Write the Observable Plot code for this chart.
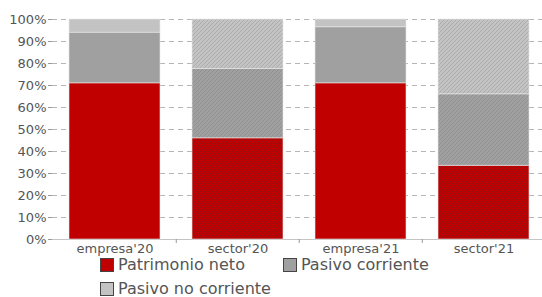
<!DOCTYPE html>
<html>
<head>
<meta charset="utf-8">
<script src="https://cdn.jsdelivr.net/npm/d3@7"></script>
<script src="https://cdn.jsdelivr.net/npm/@observablehq/plot@0.6"></script>
<style>
  body { margin: 0; background: #fff; font-family: "DejaVu Sans", sans-serif; }
  #wrap { position: relative; width: 542px; height: 297px; overflow: hidden; }
  #legend { position: absolute; left: 100px; top: 257px; width: 345px; display: flex; flex-wrap: wrap; column-gap: 38px; row-gap: 8px; font-size: 16px; color: #555; }
  .item { display: flex; align-items: center; height: 16px; line-height: 16px; white-space: nowrap; }
  .sw { width: 12px; height: 12px; border: 1px solid #444; margin-right: 4px; }
</style>
</head>
<body>
<div id="wrap"><div id="chart"></div><div id="legend"></div></div>
<script>
const categories = ["empresa'20", "sector'20", "empresa'21", "sector'21"];
const groupType = ["empresa", "sector", "empresa", "sector"];
const seriesNames = ["Patrimonio neto", "Pasivo corriente", "Pasivo no corriente"];
const patrimonioNeto = [71, 46, 71, 33.5];
const pasivoCorriente = [23, 31.5, 25.5, 32.5];
const pasivoNoCorriente = [6, 22.5, 3.5, 34];
const yTicks = [0, 10, 20, 30, 40, 50, 60, 70, 80, 90, 100];

const solid = ["#c00000", "#a0a0a0", "#c3c3c3"];
const hatchIds = ["h0", "h1", "h2"];
const hatchLine = ["#7a2020", "#7c7c7c", "#909090"];
const hatchOpacity = ["0.75", "0.5", "0.5"];

const seriesValues = [patrimonioNeto, pasivoCorriente, pasivoNoCorriente];
const rows = [];
categories.forEach((c, i) => {
  seriesValues.forEach((vals, s) => {
    rows.push({
      cat: c,
      series: seriesNames[s],
      value: vals[i],
      fill: groupType[i] === "sector" ? `url(#${hatchIds[s]})` : solid[s]
    });
  });
});

const x0 = 52, x1 = 546;
const step = (x1 - x0) / categories.length;

const chart = Plot.plot({
  width: 542,
  height: 258,
  marginLeft: 52,
  marginTop: 19,
  marginBottom: 19,
  marginRight: 0,
  style: { fontFamily: "DejaVu Sans", fontSize: "13px", color: "#555", background: "white" },
  x: { domain: categories, range: [x0, x1], padding: 0, label: null },
  y: { domain: [0, 100], label: null },
  color: { type: "identity" },
  marks: [
    Plot.gridY(yTicks.slice(1), { stroke: "#b5b5b5", strokeOpacity: 1, strokeDasharray: "5,4" }),
    Plot.ruleY([0], { stroke: "#c4c4c4" }),
    Plot.barY(rows, Plot.stackY({
      x: "cat", y: "value", fill: "fill",
      insetLeft: 16, insetRight: 16,
      stroke: "#e8e8e8", strokeOpacity: 0.6, strokeWidth: 1
    })),
    Plot.axisY(yTicks, { tickSize: 4, tickPadding: 2, tickFormat: d => d + "%", stroke: "#999", fill: "#555", line: true, label: null }),
    Plot.axisX({ tickSize: 0, tickPadding: 4, fill: "#555", label: null }),
    Plot.axisX(categories.slice(1), { tickSize: 4, tickFormat: () => "", dx: -step / 2, stroke: "#999", label: null })
  ]
});

// hatch patterns
const ns = "http://www.w3.org/2000/svg";
const defs = document.createElementNS(ns, "defs");
hatchIds.forEach((id, s) => {
  const p = document.createElementNS(ns, "pattern");
  p.setAttribute("id", id);
  p.setAttribute("patternUnits", "userSpaceOnUse");
  p.setAttribute("width", "4");
  p.setAttribute("height", "4");
  const r = document.createElementNS(ns, "rect");
  r.setAttribute("width", "4"); r.setAttribute("height", "4");
  r.setAttribute("fill", solid[s]);
  p.appendChild(r);
  const path = document.createElementNS(ns, "path");
  path.setAttribute("d", "M-1,1 l2,-2 M0,4 l4,-4 M3,5 l2,-2");
  path.setAttribute("stroke", hatchLine[s]);
  path.setAttribute("stroke-width", "0.9");
  path.setAttribute("stroke-opacity", hatchOpacity[s]);
  p.appendChild(path);
  defs.appendChild(p);
});
chart.insertBefore(defs, chart.firstChild);
document.getElementById("chart").appendChild(chart);

// legend
const legend = document.getElementById("legend");
seriesNames.forEach((name, s) => {
  const it = document.createElement("div");
  it.className = "item";
  const sw = document.createElement("span");
  sw.className = "sw";
  sw.style.background = solid[s];
  const t = document.createElement("span");
  t.textContent = name;
  it.appendChild(sw); it.appendChild(t);
  legend.appendChild(it);
});
</script>
</body>
</html>
